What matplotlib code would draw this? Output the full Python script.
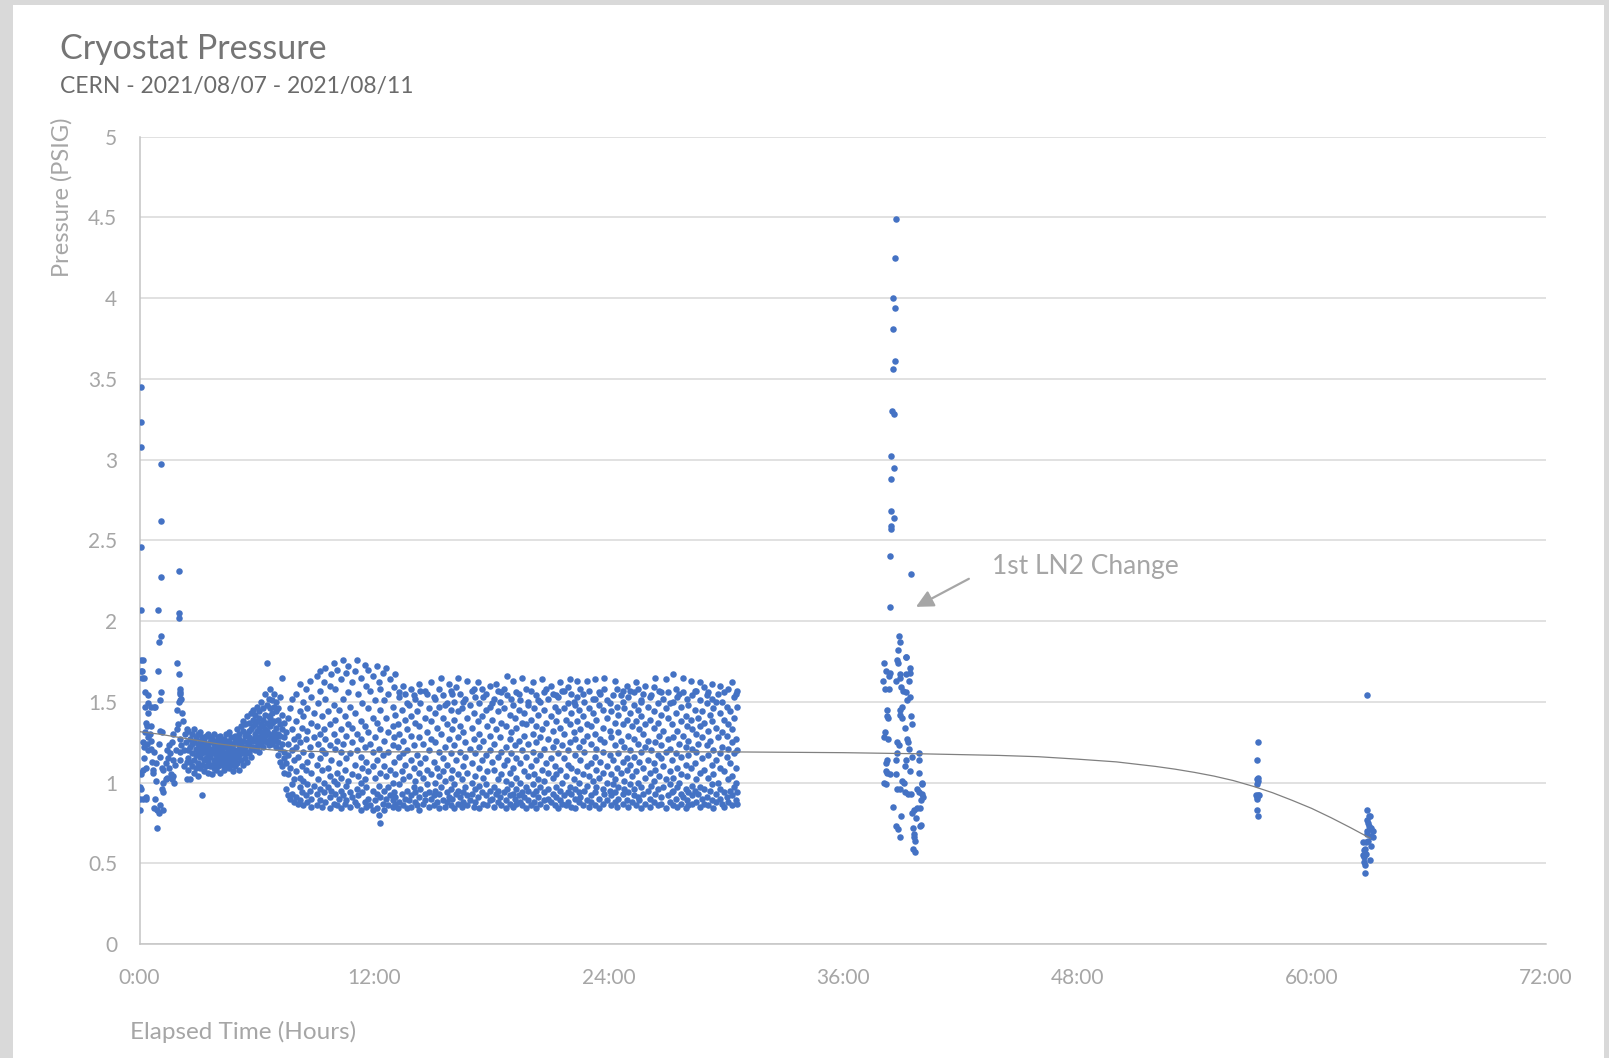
"""Cryostat pressure scatter, CERN 2021/08/07 - 2021/08/11."""

import matplotlib
matplotlib.use("Agg")
import matplotlib.pyplot as plt
import matplotlib.ticker as mticker
from matplotlib.patches import Rectangle

plt.rcParams["font.family"] = ["Lato", "DejaVu Sans"]

# --- start-up readings (0 - 2.5 h), one pressure per time -------------------
start_hours = [
    0.05, 0.05, 0.05, 0.05, 0.07, 0.05, 0.05, 0.10, 0.28, 0.45,
    0.45, 0.57, 0.79, 0.45, 0.33, 0.39, 0.57, 0.28, 0.53, 0.16,
    0.36, 0.22, 0.45, 0.57, 0.74, 0.19, 0.33, 0.62, 0.06, 0.67,
    0.70, 0.06, 0.19, 0.33, 0.02, 0.84, 1.04, 1.08, 0.96, 0.94,
    1.11, 1.11, 1.11, 1.11, 0.98, 1.06, 1.04, 1.13, 0.91, 0.74,
    0.88, 1.04, 1.21, 1.01, 0.79, 1.13, 1.21, 1.35, 1.21, 1.35,
    1.13, 1.21, 1.39, 1.52, 1.64, 1.70, 1.90, 1.98, 2.07, 2.07,
    2.11, 2.03, 1.90, 2.16, 2.21, 2.07, 2.11, 2.07, 2.07, 1.56,
    1.70, 1.81, 1.52, 1.39, 1.64, 1.73, 2.44, 2.33, 2.44, 2.27,
    2.41, 2.00, 2.02, 2.02, 1.93, 2.00, 2.05, 2.09, 0.02, 0.02,
    0.02, 0.33, 0.23, 0.16, 0.12, 0.28, 0.76, 0.45, 0.60, 0.25,
    1.00, 0.85, 1.60, 1.85, 1.45, 1.75, 2.25, 2.35,
]
start_psig = [
    3.45, 3.23, 3.08, 2.46, 2.07, 1.76, 1.69, 1.65, 1.56, 1.54,
    1.49, 1.47, 1.47, 1.43, 1.37, 1.35, 1.35, 1.31, 1.30, 1.25,
    1.24, 1.22, 1.20, 1.21, 1.19, 1.08, 1.09, 1.13, 1.05, 1.08,
    1.06, 0.96, 0.90, 0.90, 0.83, 1.01, 1.16, 1.56, 2.07, 1.69,
    2.97, 2.62, 2.27, 1.91, 1.87, 1.51, 1.32, 1.31, 0.72, 0.84,
    0.83, 0.86, 0.83, 0.81, 0.90, 1.09, 1.08, 1.12, 1.00, 1.02,
    0.96, 0.94, 1.20, 1.23, 1.25, 1.30, 1.33, 1.36, 1.58, 1.56,
    1.52, 1.50, 1.45, 1.43, 1.38, 1.27, 1.23, 1.19, 1.14, 1.18,
    1.14, 1.11, 1.09, 1.03, 1.02, 1.04, 1.02, 1.30, 1.33, 1.20,
    1.13, 2.31, 2.05, 2.02, 1.74, 1.67, 1.55, 1.51, 1.06, 0.97,
    0.90, 0.91, 1.65, 1.76, 1.69, 1.47, 1.47, 1.28, 1.26, 1.15,
    1.24, 1.12, 1.05, 1.20, 1.15, 1.00, 1.10, 1.25,
]

# --- settling ramp (2.5 - 7.4 h), readings grouped per 0.1 h ---------------
ramp_hours = [
    2.5, 2.6, 2.7, 2.8, 2.9,
    3.0, 3.1, 3.2, 3.3, 3.4, 3.5, 3.6, 3.7, 3.8, 3.9,
    4.0, 4.1, 4.2, 4.3, 4.4, 4.5, 4.6, 4.7, 4.8, 4.9,
    5.0, 5.1, 5.2, 5.3, 5.4, 5.5, 5.6, 5.7, 5.8, 5.9,
    6.0, 6.1, 6.2, 6.3, 6.4, 6.5, 6.6, 6.7, 6.8, 6.9,
    7.0, 7.1, 7.2, 7.3, 7.4,
]
ramp_psig = [
    [1.20, 1.32, 1.08, 1.15], [1.27, 1.13, 1.22, 1.02], [1.18, 1.30, 1.10, 1.24],
    [1.25, 1.14, 1.33, 1.06], [1.21, 1.09, 1.28, 1.17],
    [1.12, 1.30, 1.19, 1.24, 1.04], [1.16, 1.26, 1.09, 1.21, 1.31],
    [1.23, 1.11, 0.92, 1.18, 1.28], [1.14, 1.27, 1.07, 1.20, 1.25],
    [1.19, 1.10, 1.29, 1.15, 1.23], [1.22, 1.13, 1.30, 1.06, 1.17],
    [1.16, 1.25, 1.10, 1.20, 1.28], [1.11, 1.21, 1.18, 1.27, 1.05],
    [1.24, 1.14, 1.19, 1.09, 1.30], [1.17, 1.26, 1.12, 1.22, 1.08],
    [1.20, 1.10, 1.28, 1.15, 1.25], [1.13, 1.23, 1.18, 1.06, 1.29],
    [1.21, 1.16, 1.11, 1.26, 1.19], [1.15, 1.27, 1.08, 1.22, 1.12],
    [1.24, 1.18, 1.13, 1.30, 1.10], [1.19, 1.12, 1.26, 1.16, 1.21],
    [1.14, 1.25, 1.09, 1.20, 1.31], [1.22, 1.15, 1.28, 1.11, 1.18],
    [1.17, 1.24, 1.07, 1.21, 1.13], [1.26, 1.14, 1.19, 1.29, 1.10],
    [1.20, 1.33, 1.12, 1.25, 1.16], [1.23, 1.08, 1.30, 1.17, 1.27],
    [1.18, 1.35, 1.14, 1.24, 1.21], [1.26, 1.11, 1.32, 1.20, 1.38],
    [1.22, 1.29, 1.15, 1.36, 1.18], [1.30, 1.19, 1.41, 1.25, 1.13],
    [1.24, 1.37, 1.18, 1.32, 1.28], [1.33, 1.21, 1.43, 1.27, 1.16],
    [1.26, 1.39, 1.22, 1.35, 1.45], [1.30, 1.20, 1.42, 1.28, 1.36],
    [1.25, 1.38, 1.47, 1.22, 1.32], [1.34, 1.28, 1.44, 1.19, 1.40],
    [1.27, 1.50, 1.36, 1.24, 1.31], [1.39, 1.30, 1.46, 1.22, 1.35],
    [1.33, 1.55, 1.26, 1.42, 1.29], [1.74, 1.37, 1.48, 1.25, 1.32],
    [1.41, 1.30, 1.52, 1.23, 1.36], [1.35, 1.46, 1.27, 1.58, 1.40],
    [1.29, 1.43, 1.37, 1.51, 1.24], [1.38, 1.47, 1.31, 1.55, 1.26],
    [1.34, 1.44, 1.22, 1.50, 1.28], [1.30, 1.39, 1.17, 1.46, 1.25],
    [1.36, 1.21, 1.53, 1.13, 1.29], [1.65, 1.24, 1.42, 1.10, 1.33],
    [1.19, 1.37, 1.06, 1.28, 1.15],
]

# --- steady band (7.5 - 30.6 h), readings grouped by logging time ----------
band_hours = [
    7.52, 7.61, 7.69, 7.78, 7.91,
    8.03, 8.12, 8.19, 8.31, 8.38, 8.52, 8.59, 8.71, 8.80, 8.93,
    9.06, 9.14, 9.25, 9.33, 9.44, 9.51, 9.63, 9.74, 9.82, 9.95,
    10.01, 10.10, 10.22, 10.29, 10.41, 10.49, 10.57, 10.68, 10.77, 10.89,
    11.03, 11.12, 11.19, 11.31, 11.38, 11.52, 11.59, 11.71, 11.80, 11.93,
    12.06, 12.14, 12.25, 12.33, 12.44, 12.51, 12.63, 12.74, 12.82, 12.95,
    13.01, 13.10, 13.22, 13.29, 13.41, 13.49, 13.57, 13.68, 13.77, 13.89,
    14.03, 14.12, 14.19, 14.31, 14.38, 14.52, 14.59, 14.71, 14.80, 14.93,
    15.06, 15.14, 15.25, 15.33, 15.44, 15.51, 15.63, 15.74, 15.82, 15.95,
    16.01, 16.10, 16.22, 16.29, 16.41, 16.49, 16.57, 16.68, 16.77, 16.89,
    17.03, 17.12, 17.19, 17.31, 17.38, 17.52, 17.59, 17.71, 17.80, 17.93,
    18.06, 18.14, 18.25, 18.33, 18.44, 18.51, 18.63, 18.74, 18.82, 18.95,
    19.01, 19.10, 19.22, 19.29, 19.41, 19.49, 19.57, 19.68, 19.77, 19.89,
    20.03, 20.12, 20.19, 20.31, 20.38, 20.52, 20.59, 20.71, 20.80, 20.93,
    21.06, 21.14, 21.25, 21.33, 21.44, 21.51, 21.63, 21.74, 21.82, 21.95,
    22.01, 22.10, 22.22, 22.29, 22.41, 22.49, 22.57, 22.68, 22.77, 22.89,
    23.03, 23.12, 23.19, 23.31, 23.38, 23.52, 23.59, 23.71, 23.80, 23.93,
    24.06, 24.14, 24.25, 24.33, 24.44, 24.51, 24.63, 24.74, 24.82, 24.95,
    25.01, 25.10, 25.22, 25.29, 25.41, 25.49, 25.57, 25.68, 25.77, 25.89,
    26.03, 26.12, 26.19, 26.31, 26.38, 26.52, 26.59, 26.71, 26.80, 26.93,
    27.06, 27.14, 27.25, 27.33, 27.44, 27.51, 27.63, 27.74, 27.82, 27.95,
    28.01, 28.10, 28.22, 28.29, 28.41, 28.49, 28.57, 28.68, 28.77, 28.89,
    29.03, 29.12, 29.19, 29.31, 29.38, 29.52, 29.59, 29.71, 29.80, 29.93,
    30.06, 30.14, 30.25, 30.33, 30.44, 30.51, 30.59,
]
band_psig = [
    # 7.5 - 7.9
    [1.12, 0.96, 1.31], [1.05, 1.24, 0.92, 1.40, 1.17], [0.90, 1.09, 1.46],
    [1.20, 0.99, 1.33, 1.52, 0.93], [1.27, 0.88, 1.14, 1.02],
    # 8
    [0.91, 1.38, 1.07, 1.55, 1.22], [1.16, 0.87, 1.29], [1.44, 0.97, 1.03, 1.61, 0.89, 1.25],
    [1.10, 1.34, 0.94], [0.86, 1.19, 1.50, 1.01, 1.41], [1.27, 0.92, 1.58, 1.08],
    [0.99, 1.46, 0.88, 1.13, 1.32], [1.22, 1.63, 0.95], [0.90, 1.06, 1.37, 1.53, 1.17, 0.85],
    [1.43, 0.98, 1.28],
    # 9
    [1.11, 0.86, 1.66, 1.35, 0.93], [1.24, 1.49, 1.02], [0.89, 1.57, 1.15, 1.30, 0.96, 1.69],
    [1.08, 1.41, 0.85, 1.20], [1.62, 0.94, 1.33, 1.00], [1.18, 0.88, 1.52, 1.27, 1.71],
    [0.97, 1.44, 1.09], [1.36, 0.84, 1.23, 1.60, 1.04, 0.91], [1.14, 1.67, 0.95],
    [0.87, 1.30, 1.48, 1.01, 1.74],
    # 10
    [1.21, 0.93, 1.39, 1.58], [1.06, 1.70, 0.86, 1.26, 0.99], [1.45, 1.12, 0.90],
    [0.84, 1.33, 1.64, 1.03, 1.19, 0.95], [1.52, 1.76, 0.92, 1.24], [1.08, 0.87, 1.41],
    [1.29, 1.68, 0.98, 1.15, 0.89], [1.56, 1.01, 1.36, 1.72], [0.94, 1.18, 0.85, 1.47],
    [1.25, 1.62, 1.05, 0.91, 1.34],
    # 11
    [0.88, 1.43, 1.11, 1.69], [1.76, 1.20, 0.96, 1.30, 0.86], [1.04, 1.55, 0.92],
    [1.38, 0.83, 1.16, 1.65, 1.00, 1.27], [0.94, 1.49, 1.09], [1.22, 1.73, 0.88, 1.35, 1.02],
    [1.60, 0.97, 1.13, 0.85], [1.31, 1.46, 0.90, 1.07, 1.70], [0.86, 1.24, 1.57],
    [1.10, 0.95, 1.40, 1.66, 0.83, 1.19],
    # 12
    [1.51, 0.89, 1.28, 1.03], [0.93, 1.37, 1.72, 1.14, 0.84], [1.21, 1.62, 0.98, 0.80],
    [0.75, 1.06, 1.45, 0.91, 1.33, 1.58], [1.17, 0.87, 1.68], [0.95, 1.26, 1.51, 0.83, 1.10],
    [1.40, 0.90, 1.04, 1.71], [0.86, 1.19, 1.55, 1.31, 0.97], [1.08, 1.64, 0.92],
    [1.35, 0.85, 1.23, 1.47, 1.00, 0.89],
    # 13
    [1.13, 1.59, 0.94, 1.28], [0.87, 1.42, 1.05, 1.67, 0.91], [1.22, 0.84, 1.36],
    [0.99, 1.53, 1.16, 0.88, 1.56, 1.30], [1.07, 0.93, 1.45], [1.26, 0.86, 1.60, 1.02, 1.18],
    [0.90, 1.39, 1.11, 1.55], [1.33, 0.95, 1.49, 0.84, 1.20], [1.04, 1.48, 0.89],
    [1.14, 0.92, 1.29, 1.58, 0.85, 1.41],
    # 14
    [0.97, 1.54, 1.09, 1.23], [1.37, 0.88, 1.52, 1.01, 0.94], [1.17, 1.44, 0.86],
    [0.91, 1.28, 1.61, 1.06, 1.35, 0.83], [1.12, 0.96, 1.49, 1.57], [0.87, 1.24, 1.03],
    [1.40, 1.57, 0.93, 1.15, 0.89], [1.31, 0.99, 1.55, 1.08], [0.85, 1.20, 1.46, 0.94],
    [1.05, 1.62, 1.27, 0.90, 1.38],
    # 15
    [0.92, 1.13, 1.53, 0.86], [1.43, 1.00, 1.25, 1.52, 0.95], [1.09, 0.88, 1.34],
    [1.58, 0.93, 1.19, 1.47, 0.84, 1.04], [1.30, 0.97, 1.65], [0.89, 1.15, 1.40, 1.07, 1.54],
    [1.22, 0.85, 1.01, 1.48], [0.94, 1.36, 1.49, 1.11, 0.88], [1.27, 1.61, 0.91],
    [1.03, 0.86, 1.45, 1.18, 1.57, 0.96],
    # 16
    [1.33, 0.90, 1.08, 1.55], [0.84, 1.23, 1.50, 0.99, 1.39], [1.14, 1.59, 0.93],
    [1.44, 0.87, 1.05, 1.28, 1.65, 0.95], [1.19, 0.91, 1.55, 1.35], [1.02, 1.46, 0.85],
    [1.31, 0.94, 1.50, 1.10, 0.88], [1.52, 1.16, 0.97, 1.25], [0.86, 1.40, 1.06, 1.63, 0.92],
    [1.21, 0.89, 1.48],
    # 17
    [1.00, 1.57, 0.93, 1.34, 1.12], [1.58, 0.85, 1.27, 1.43], [0.96, 1.18, 1.53, 0.88, 1.04],
    [1.38, 0.91, 1.62], [1.09, 1.30, 0.84, 1.49, 0.98, 1.22], [1.58, 0.94, 1.14, 1.41],
    [0.87, 1.26, 1.53, 1.03], [1.45, 0.92, 1.17, 0.99, 1.55], [1.07, 0.86, 1.35],
    [1.60, 1.20, 0.95, 1.29, 0.89, 1.47],
    # 18
    [1.13, 0.90, 1.39, 1.49], [0.97, 1.52, 1.24, 0.85, 1.08], [1.33, 1.61, 0.93],
    [0.88, 1.16, 1.44, 1.02, 1.57, 0.95], [1.28, 0.91, 1.50], [1.05, 1.37, 0.86, 1.56, 1.19],
    [0.94, 1.46, 1.11, 1.58], [1.22, 0.89, 1.01, 1.35, 0.84], [1.54, 1.66, 0.96, 1.14],
    [0.92, 1.27, 1.42, 1.06, 0.87],
    # 19
    [1.18, 1.52, 0.99, 1.31], [0.85, 1.09, 1.48, 0.93, 1.63], [1.40, 1.23, 0.90],
    [1.03, 0.87, 1.56, 1.15, 1.34, 0.96], [1.26, 1.55, 0.92, 1.45], [0.88, 1.12, 1.51, 1.00],
    [1.37, 0.94, 1.20, 1.65, 0.86], [1.07, 1.43, 0.91, 1.29], [1.58, 0.97, 1.16, 0.84, 1.36],
    [1.24, 0.89, 1.50, 1.04, 1.48, 0.95],
    # 20
    [1.10, 1.39, 0.86, 1.57], [0.93, 1.30, 1.19, 1.62, 0.99], [1.46, 0.88, 1.05],
    [1.25, 1.54, 0.95, 1.14, 0.84, 1.35], [0.91, 1.51, 1.02, 1.42], [1.17, 0.87, 1.28, 1.50, 0.97],
    [1.33, 1.08, 1.64], [0.89, 1.45, 1.21, 0.94, 1.56, 1.01], [1.12, 1.37, 0.85, 1.58],
    [0.96, 1.27, 1.52, 1.06, 0.90],
    # 21
    [1.41, 1.15, 0.88, 1.60], [1.03, 0.93, 1.32, 1.55, 1.22], [0.86, 1.47, 1.10],
    [1.54, 1.26, 0.97, 1.38, 0.91, 1.05], [1.18, 0.84, 1.53, 1.44], [0.95, 1.34, 1.08, 1.62, 0.89],
    [1.23, 1.57, 1.00, 0.87], [1.46, 0.92, 1.15, 1.30, 1.57], [1.04, 0.86, 1.39],
    [1.20, 1.59, 0.94, 1.11, 1.49, 0.88],
    # 22
    [0.97, 1.36, 1.64, 1.25], [1.09, 0.85, 1.43, 1.55, 0.93], [1.31, 1.02, 1.50],
    [0.90, 1.17, 1.48, 0.96, 1.27, 0.84], [1.53, 1.07, 1.38, 1.63], [0.88, 1.22, 1.00, 1.45, 0.94],
    [1.14, 1.58, 0.91, 1.33], [1.55, 0.86, 1.26, 1.05, 1.41], [0.95, 1.19, 1.50],
    [1.36, 0.89, 1.10, 1.63, 0.98, 1.29],
    # 23
    [1.04, 1.46, 0.85, 1.57], [1.24, 0.92, 1.35, 1.12, 0.88], [1.52, 1.01, 1.43],
    [0.94, 1.16, 1.52, 0.86, 1.30, 1.64], [1.08, 1.39, 0.97, 1.21], [0.90, 1.48, 1.56, 1.03, 0.84],
    [1.27, 1.13, 1.55], [0.96, 1.34, 0.87, 1.45, 1.19, 1.06], [1.58, 0.93, 1.25, 1.65],
    [1.10, 0.89, 1.40, 1.00, 1.51],
    # 24
    [1.32, 0.95, 1.49, 1.17], [0.86, 1.05, 1.44, 1.28, 0.92], [1.54, 1.14, 0.99],
    [1.23, 0.88, 1.37, 1.63, 1.02, 0.94], [1.47, 1.09, 0.85, 1.58], [1.18, 1.31, 0.97, 1.42, 0.90],
    [1.54, 1.06, 1.26], [0.93, 1.50, 1.13, 0.87, 1.36, 1.57], [1.01, 1.22, 1.46, 0.96],
    [1.39, 0.89, 1.60, 1.15, 1.08],
    # 25
    [0.94, 1.29, 1.53, 0.85], [1.11, 1.43, 0.99, 1.57, 1.20], [0.88, 1.35, 1.04],
    [1.56, 1.16, 0.92, 1.27, 1.48, 0.96], [1.07, 1.62, 0.86, 1.38], [1.24, 0.91, 1.45, 1.00, 1.58],
    [1.33, 1.13, 0.89], [0.97, 1.51, 1.19, 1.50, 0.84, 1.41], [1.09, 1.30, 0.93, 1.55],
    [1.60, 0.87, 1.22, 1.03, 1.36],
    # 26
    [1.14, 1.47, 0.95, 1.26], [0.90, 1.53, 1.06, 1.39, 0.85], [1.20, 1.54, 0.98],
    [1.34, 0.88, 1.12, 1.59, 1.01, 1.44], [0.93, 1.25, 1.65, 1.08], [1.49, 0.86, 1.17, 1.37, 0.96],
    [1.04, 1.57, 1.29], [0.91, 1.42, 1.15, 0.87, 1.56, 1.23], [1.32, 0.97, 1.52, 1.10],
    [0.84, 1.19, 1.46, 1.02, 1.64],
    # 27
    [1.27, 0.92, 1.40, 1.56], [1.07, 1.49, 0.88, 1.21, 0.99], [1.36, 1.14, 0.94],
    [0.86, 1.50, 1.03, 1.28, 1.67, 0.95], [1.18, 1.43, 0.90, 1.58], [1.32, 0.97, 1.09, 1.53, 0.85],
    [1.24, 1.55, 1.00], [0.93, 1.38, 1.16, 0.87, 1.47, 1.05], [1.56, 1.29, 0.91, 1.65],
    [1.11, 0.96, 1.41, 0.84, 1.22],
    # 28
    [1.35, 1.52, 0.89, 1.04], [1.17, 0.94, 1.48, 1.26, 0.86], [1.63, 1.09, 1.39],
    [0.92, 1.21, 1.54, 0.98, 1.33, 0.87], [1.45, 1.12, 0.95, 1.57], [1.02, 1.30, 0.88, 1.57, 1.19],
    [1.40, 0.93, 1.24], [1.51, 1.06, 0.85, 1.35, 1.62, 0.97], [1.15, 1.44, 0.90, 1.28],
    [0.96, 1.59, 1.08, 1.37, 0.87],
    # 29
    [1.23, 0.91, 1.49, 1.54], [1.03, 1.32, 0.86, 1.17, 1.56], [1.42, 0.95, 1.26],
    [0.89, 1.11, 1.61, 1.38, 0.99, 1.52], [1.20, 0.84, 1.46, 1.05], [1.34, 1.50, 0.93, 1.14, 0.88],
    [1.00, 1.28, 1.55], [1.43, 0.90, 1.18, 1.60, 0.96, 1.09], [1.31, 0.87, 1.50, 1.22],
    [0.94, 1.39, 1.56, 1.07, 0.85],
    # 30
    [1.16, 1.47, 0.91, 1.29], [1.58, 1.02, 0.88, 1.36, 1.21], [0.95, 1.44, 1.12],
    [1.25, 0.86, 1.62, 1.04, 1.33, 0.92], [1.53, 1.18, 0.97, 1.40], [0.89, 1.09, 1.27, 1.55, 1.00],
    [1.47, 0.87, 1.20, 1.57, 0.94],
]

# --- first LN2 change (about 38 - 40 h) -------------------------------------
refill_hours = [
    38.70, 38.66, 38.56, 38.66, 38.56, 38.66, 38.56, 38.52, 38.63, 38.49,
    38.61, 38.49, 38.46, 38.60, 38.49, 38.49, 38.44, 39.47, 38.44, 38.90,
    38.94, 38.84, 39.21, 39.24, 38.79, 38.82, 38.10, 39.43, 38.19, 38.41,
    38.95, 39.21, 39.43, 38.39, 38.05, 38.73, 38.95, 39.38, 38.15, 38.36,
    38.99, 39.09, 39.21, 39.30, 39.43, 38.24, 39.04, 38.95, 38.24, 38.32,
    38.95, 39.04, 39.47, 39.17, 39.55, 38.15, 38.10, 38.32, 38.79, 38.87,
    39.30, 39.33, 39.38, 38.79, 39.89, 39.52, 38.27, 38.19, 38.70, 39.26,
    39.89, 38.19, 38.27, 38.41, 38.73, 39.17, 39.43, 39.89, 38.10, 38.19,
    39.12, 39.04, 40.03, 40.03, 38.79, 38.95, 39.16, 39.33, 39.50, 39.81,
    39.89, 40.03, 40.12, 39.98, 38.58, 39.64, 39.81, 39.94, 39.55, 38.99,
    39.76, 39.98, 39.94, 38.70, 38.82, 39.57, 38.95, 39.64, 39.67, 39.69,
    39.59, 39.69,
]
refill_psig = [
    4.49, 4.25, 4.00, 3.94, 3.81, 3.61, 3.56, 3.30, 3.28, 3.02,
    2.95, 2.88, 2.68, 2.64, 2.59, 2.57, 2.40, 2.29, 2.09, 1.91,
    1.87, 1.82, 1.78, 1.78, 1.76, 1.74, 1.74, 1.71, 1.69, 1.68,
    1.67, 1.67, 1.68, 1.66, 1.63, 1.63, 1.65, 1.63, 1.58, 1.58,
    1.59, 1.57, 1.56, 1.51, 1.53, 1.45, 1.47, 1.45, 1.41, 1.40,
    1.42, 1.40, 1.41, 1.34, 1.36, 1.31, 1.28, 1.27, 1.25, 1.23,
    1.27, 1.25, 1.21, 1.18, 1.18, 1.16, 1.14, 1.12, 1.14, 1.14,
    1.14, 1.07, 1.06, 1.05, 1.05, 1.10, 1.07, 1.06, 1.00, 0.99,
    1.00, 1.01, 1.00, 0.99, 0.96, 0.96, 0.94, 0.93, 0.93, 0.96,
    0.94, 0.93, 0.91, 0.89, 0.85, 0.83, 0.84, 0.84, 0.81, 0.79,
    0.78, 0.74, 0.73, 0.73, 0.71, 0.72, 0.66, 0.68, 0.66, 0.64,
    0.59, 0.57,
]

# --- later checks -------------------------------------------------------------
check1_hours = [57.26, 57.23, 57.26, 57.23, 57.26, 57.19, 57.16, 57.26, 57.33, 57.19, 57.23, 57.19, 57.28]
check1_psig = [1.25, 1.14, 1.03, 1.02, 1.01, 0.99, 0.92, 0.92, 0.92, 0.91, 0.90, 0.83, 0.79]

check2_hours = [
    62.86, 62.83, 62.95, 63.00, 62.86, 62.89, 62.93, 63.03, 62.83, 63.00,
    63.12, 62.86, 63.03, 63.12, 62.64, 62.78, 62.89, 63.03, 62.74, 62.69,
    62.64, 62.78, 62.66, 63.00, 62.69, 62.72, 62.72,
]
check2_psig = [
    1.54, 0.83, 0.79, 0.79, 0.77, 0.75, 0.73, 0.72, 0.70, 0.71,
    0.70, 0.68, 0.67, 0.66, 0.63, 0.63, 0.64, 0.61, 0.59, 0.58,
    0.55, 0.56, 0.54, 0.52, 0.51, 0.49, 0.44,
]

# --- polynomial trendline as drawn by the spreadsheet -------------------------
trend_hours = [0, 1, 2, 3, 4, 5, 6, 7, 8, 10, 20, 30, 36, 40, 44, 46, 48, 50, 52,
               53, 54, 55, 56, 57, 58, 59, 60, 61, 62, 63]
trend_psig = [1.315, 1.30, 1.28, 1.26, 1.24, 1.225, 1.21, 1.20, 1.195, 1.19, 1.19, 1.19,
              1.185, 1.178, 1.168, 1.16, 1.145, 1.128, 1.10, 1.083, 1.063, 1.04, 1.012,
              0.977, 0.937, 0.89, 0.84, 0.782, 0.72, 0.655]

X_TICKS = [0, 12, 24, 36, 48, 60, 72]
Y_TICKS = [0, 0.5, 1, 1.5, 2, 2.5, 3, 3.5, 4, 4.5, 5]

DOT = "#4472c4"
LIGHT = "#a6a6a6"
W, H = 1609, 1058


def _flatten(hours, groups):
    xs, ys = [], []
    for t, vals in zip(hours, groups):
        xs.extend([t] * len(vals))
        ys.extend(vals)
    return xs, ys


fig = plt.figure(figsize=(W / 100, H / 100), dpi=100)
fig.patch.set_facecolor("#d9d9d9")
fig.patches.append(Rectangle((13 / W, 0), (1604 - 13) / W, (H - 5) / H,
                             transform=fig.transFigure, facecolor="white",
                             edgecolor="none", zorder=-10))

ax = fig.add_axes([139.6 / W, 1 - 944 / H, (1546 - 139.6) / W, (944 - 136.7) / H])
ax.set_facecolor("none")
ax.set_zorder(2)

ramp_x, ramp_y = _flatten(ramp_hours, ramp_psig)
band_x, band_y = _flatten(band_hours, band_psig)
xs = start_hours + ramp_x + band_x + refill_hours + check1_hours + check2_hours
ys = start_psig + ramp_y + band_y + refill_psig + check1_psig + check2_psig
ax.scatter(xs, ys, s=22, color=DOT, linewidths=0, zorder=3)

ax.plot(trend_hours, trend_psig, color="#808080", lw=0.9, zorder=4)

ax.set_xlim(0, 72)
ax.set_ylim(0, 5)
ax.set_xticks(X_TICKS)
ax.set_yticks(Y_TICKS)
ax.xaxis.set_major_formatter(mticker.FuncFormatter(lambda x, _: f"{int(x)}:00"))
ax.yaxis.set_major_formatter(mticker.FuncFormatter(lambda y, _: f"{y:g}"))
ax.tick_params(length=0, labelsize=15, labelcolor=LIGHT)
ax.tick_params(axis="y", pad=16)
ax.tick_params(axis="x", pad=17)

ax.grid(axis="y", color="#d9d9d9", lw=1.1, zorder=0)
ax.set_axisbelow(True)
for side in ("top", "right"):
    ax.spines[side].set_visible(False)
for side in ("left", "bottom"):
    ax.spines[side].set_color("#c4c4c4")
    ax.spines[side].set_linewidth(1.1)

# annotation
ax.annotate("", xy=(39.62, 2.08), xytext=(42.58, 2.27),
            arrowprops=dict(arrowstyle="-|>", color=LIGHT, lw=1.6, mutation_scale=26),
            zorder=5)
ax.text(43.65, 2.34, "1st LN2 Change", fontsize=19, color=LIGHT, ha="left", va="center")

# titles
fig.text(60 / W, 1 - 59 / H, "Cryostat Pressure", fontsize=24.5, color="#757575",
         ha="left", va="baseline")
fig.text(60 / W, 1 - 93 / H, "CERN - 2021/08/07 - 2021/08/11", fontsize=16.5,
         color="#6b6b6b", ha="left", va="baseline")
fig.text(62 / W, 1 - 197 / H, "Pressure (PSIG)", fontsize=17, color=LIGHT,
         rotation=90, ha="center", va="center")
fig.text(130 / W, 1 - 1032 / H, "Elapsed Time (Hours)", fontsize=17.5, color=LIGHT,
         ha="left", va="center")

fig.savefig("out.png", dpi=100)
